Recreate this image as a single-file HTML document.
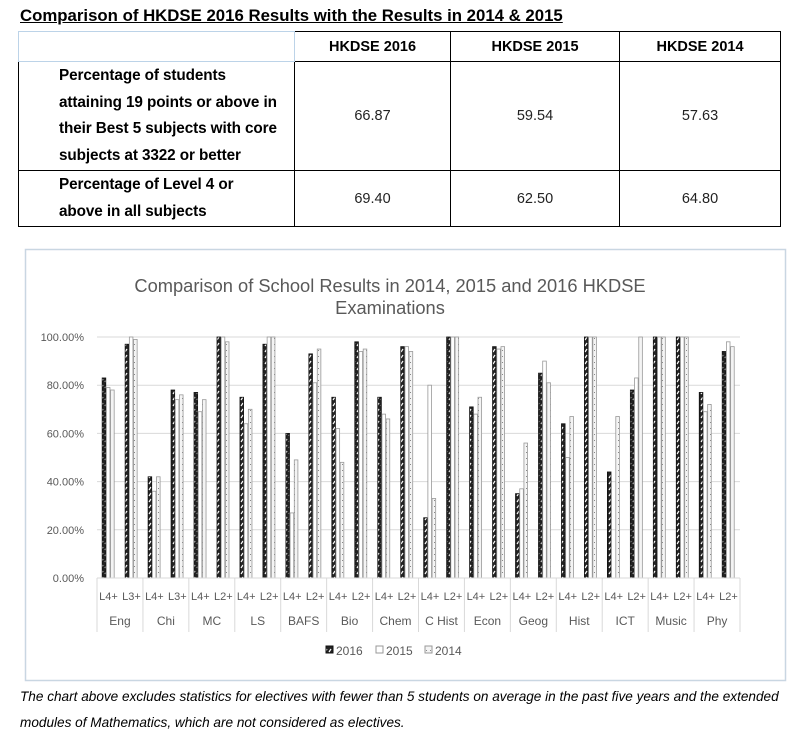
<!DOCTYPE html>
<html><head><meta charset="utf-8"><style>
body{margin:0;background:#fff;width:804px;height:742px;overflow:hidden;font-family:"Liberation Sans",sans-serif;}
.t{position:absolute;left:20px;top:6px;font-size:16.8px;font-weight:bold;text-decoration:underline;color:#000;}
table{position:absolute;left:18px;top:31px;border-collapse:collapse;width:763px;}
td{border:1.3px solid #000;font-size:14.5px;text-align:center;color:#222;}
td.l{text-align:left;font-weight:bold;padding-left:40px;line-height:26.5px;color:#000;font-size:15.3px;letter-spacing:-0.1px;}
th{border:1.3px solid #000;font-size:14.5px;height:27px;}
.foot{position:absolute;left:20px;top:684px;font-size:13.6px;font-style:italic;line-height:26px;color:#000;white-space:nowrap;}
</style></head><body>
<div class="t">Comparison of HKDSE 2016 Results with the Results in 2014 &amp; 2015</div>
<table>
<tr><th style="width:273px;border-color:#bcd3e8"></th><th style="width:153px">HKDSE 2016</th><th style="width:166px">HKDSE 2015</th><th>HKDSE 2014</th></tr>
<tr><td class="l" style="height:106px">Percentage of students<br>attaining 19 points or above in<br>their Best 5 subjects with core<br>subjects at 3322 or better</td><td>66.87</td><td>59.54</td><td>57.63</td></tr>
<tr><td class="l" style="height:52px">Percentage of Level 4 or<br>above in all subjects</td><td>69.40</td><td>62.50</td><td>64.80</td></tr>
</table>
<svg width="804" height="742" style="position:absolute;left:0;top:0" id="s" xmlns="http://www.w3.org/2000/svg">
<defs>
<pattern id="p16" width="4" height="6" patternUnits="userSpaceOnUse"><rect width="4" height="6" fill="#222"/><path d="M1 4 L3 1" stroke="#fff" stroke-width="1.2"/></pattern>
<pattern id="p14" width="4" height="6" patternUnits="userSpaceOnUse"><rect width="4" height="6" fill="#f4f4f4"/><rect x="2" y="2" width="1" height="1" fill="#888"/></pattern>
</defs>
<rect x="25.5" y="249.5" width="760" height="431" fill="#fff" stroke="#c9d6e2" stroke-width="1.5"/>
<text x="390" y="292" font-size="18.3" fill="#595959" text-anchor="middle" font-family="Liberation Sans">Comparison of School Results in 2014, 2015 and 2016 HKDSE</text>
<text x="390" y="314" font-size="18.3" fill="#595959" text-anchor="middle" font-family="Liberation Sans">Examinations</text>
<g id="g"></g>
</svg>
<div class="foot">The chart above excludes statistics for electives with fewer than 5 students on average in the past five years and the extended<br>modules of Mathematics, which are not considered as electives.</div>
<script>
var d=[[83,79,78],[97,100,99],[42,36,42],[78,74,76],[77,69,74],[100,100,98],[75,64,70],[97,100,100],[60,27,49],[93,81,95],[75,62,48],[98,94,95],[75,68,66],[96,96,94],[25,80,33],[100,100,100],[71,68,75],[96,95,96],[35,37,56],[85,90,81],[64,50,67],[100,100,100],[44,0,67],[78,83,100],[100,100,100],[100,100,100],[77,69,72],[94,98,96]];
var subs=["Eng","Chi","MC","LS","BAFS","Bio","Chem","C Hist","Econ","Geog","Hist","ICT","Music","Phy"];
var lv=["L4+","L3+","L4+","L3+","L4+","L2+","L4+","L2+","L4+","L2+","L4+","L2+","L4+","L2+","L4+","L2+","L4+","L2+","L4+","L2+","L4+","L2+","L4+","L2+","L4+","L2+","L4+","L2+"];
var x0=97,x1=740,y0=578,y1=337,w=(x1-x0)/28,h="";
for(var i=0;i<=5;i++){var y=y0-(y0-y1)*i/5;h+='<line x1="'+x0+'" x2="'+x1+'" y1="'+y+'" y2="'+y+'" stroke="#d9d9d9"/>';h+='<text x="84" y="'+(y+4)+'" font-size="11" fill="#595959" text-anchor="end">'+(i*20).toFixed(2)+'%</text>';}
var f=["url(#p16)","#fff","url(#p14)"],st=["#111","#999","#999"];
for(var c=0;c<28;c++){var cx=x0+w*c+w/2;for(var k=0;k<3;k++){var v=d[c][k];if(!v)continue;var bh=(y0-y1)*v/100;h+='<rect x="'+(cx-6.3+k*4.2)+'" y="'+(y0-bh)+'" width="3.6" height="'+bh+'" fill="'+f[k]+'" stroke="'+st[k]+'" stroke-width="0.8"/>';}
h+='<text x="'+cx+'" y="600" font-size="11" fill="#595959" text-anchor="middle">'+lv[c]+'</text>';}
for(var s=0;s<=14;s++){var x=x0+w*2*s;h+='<line x1="'+x+'" x2="'+x+'" y1="'+y0+'" y2="632" stroke="#d9d9d9"/>';if(s<14)h+='<text x="'+(x+w)+'" y="625" font-size="12" fill="#595959" text-anchor="middle">'+subs[s]+'</text>';}
h+='<line x1="'+x0+'" x2="'+x1+'" y1="'+y0+'" y2="'+y0+'" stroke="#d9d9d9"/>';
var lg=[[326,"url(#p16)","#111","2016"],[376,"#fff","#999","2015"],[425,"url(#p14)","#999","2014"]];
lg.forEach(function(a){h+='<rect x="'+a[0]+'" y="646" width="7" height="7" fill="'+a[1]+'" stroke="'+a[2]+'"/><text x="'+(a[0]+10)+'" y="655" font-size="12" fill="#595959">'+a[3]+'</text>';});
document.getElementById("g").innerHTML=h;
</script>
</body></html>
